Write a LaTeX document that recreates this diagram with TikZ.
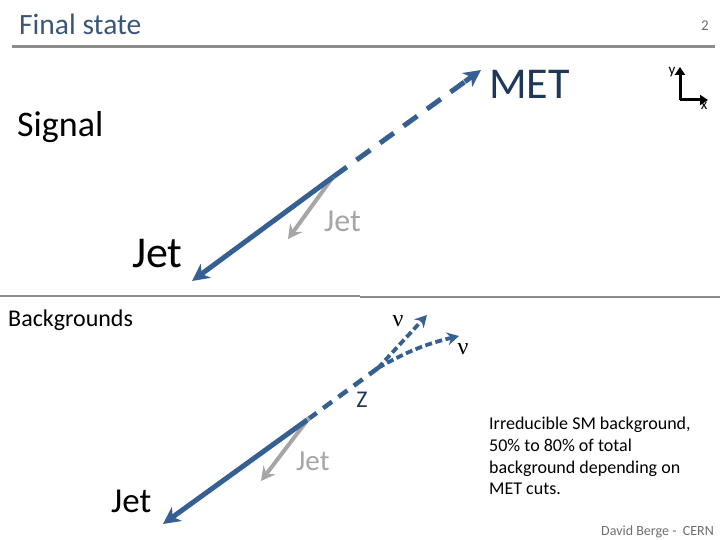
\documentclass[tikz,border=0pt]{standalone}
\usepackage{fontspec}
\setmainfont{Carlito}
\newfontfamily\greekf{Liberation Serif}
\usetikzlibrary{arrows.meta,calc}
\definecolor{arrblue}{RGB}{54,96,146}
\definecolor{navy}{RGB}{31,56,90}
\definecolor{titleblue}{RGB}{59,87,120}
\definecolor{rulegray}{RGB}{140,140,140}
\definecolor{jetgray}{RGB}{166,166,166}
\definecolor{footgray}{RGB}{110,110,110}
\tikzset{
  lbl/.style={inner sep=0pt, anchor=base west},
  bluearr/.style={draw=arrblue, line width=5pt, -{Stealth[length=17pt,width=17pt,inset=5pt]}},
  bluedash/.style={draw=arrblue, line width=5pt, dash pattern=on 17pt off 12pt},
  nuarr/.style={draw=arrblue, line width=3.8pt, dash pattern=on 7pt off 3.5pt, -{Stealth[length=12pt,width=13pt,inset=4pt]}},
  grayarr/.style={draw=jetgray, line width=4pt, -{Stealth[length=14pt,width=15pt,inset=5pt]}},
  rule/.style={draw=rulegray, line width=2pt},
  axis/.style={draw=black, line width=3pt, -{Triangle[length=8pt,width=10pt]}}
}
\begin{document}
\begin{tikzpicture}[x=1pt,y=-1pt]
\useasboundingbox (0,0) rectangle (720,540);
% header
\node[lbl, text=titleblue, font=\fontsize{29.5}{32}\selectfont] (title) at (19,35) {Final state};
\node[inner sep=0pt, anchor=base east, text=footgray, font=\fontsize{15}{17}\selectfont] (page) at (709,31) {2};
\draw[draw=rulegray, line width=3pt] (12,47) -- (715,47);
% signal
\node[lbl, font=\fontsize{36}{40}\selectfont] (signal) at (17,137) {Signal};
\coordinate (v1) at (333,177);
\coordinate (jet1) at (192,281);
\coordinate (met) at (481,70);
\coordinate (gjet1) at (288,239);
\draw[bluedash] (v1) -- ($(met)!14pt!(v1)$);
\draw[bluearr] ($(met)!20pt!(v1)$) -- (met);
\draw[grayarr] (v1) -- (gjet1);
\draw[bluearr] (v1) -- (jet1);
\node[lbl, text=navy, font=\fontsize{44}{48}\selectfont] (metl) at (489,99) {MET};
\node[lbl, font=\fontsize{44}{48}\selectfont] (jetl1) at (132,267) {Jet};
\node[lbl, text=jetgray, font=\fontsize{32}{36}\selectfont] (gjetl1) at (324,232) {Jet};
% axes
\coordinate (ax0) at (680,100);
\coordinate (axy) at (680,67);
\coordinate (axx) at (708,100);
\draw[axis] (ax0) -- (axy);
\draw[axis] (ax0) -- (axx);
\node[inner sep=0pt, font=\fontsize{15}{17}\selectfont] (ylab) at (672,72) {y};
\node[inner sep=0pt, font=\fontsize{15}{17}\selectfont] (xlab) at (704,106) {x};
% divider
\draw[rule] (0,295.5) -- (360,295.5);
\draw[rule] (360,297) -- (720,297);
% backgrounds
\node[lbl, font=\fontsize{24}{28}\selectfont] (bg) at (8,326) {Backgrounds};
\coordinate (v2) at (378,368);
\coordinate (v3) at (307,420);
\coordinate (nu1) at (427,315);
\coordinate (nu2) at (459,336);
\coordinate (jet2) at (163,524);
\coordinate (gjet2) at (261,481);
\draw[draw=arrblue, line width=4.5pt, dash pattern=on 11pt off 8pt] (v2) -- (v3);
\draw[nuarr] (v2) -- (nu1);
\draw[nuarr] (v2) to[bend left=8] (nu2);
\draw[grayarr] (309,418) -- (gjet2);
\draw[bluearr] (v3) -- (jet2);
\node[inner sep=0pt, font=\greekf\fontsize{24}{28}\selectfont] (nul1) at (398,321) {ν};
\node[inner sep=0pt, font=\greekf\fontsize{24}{28}\selectfont] (nul2) at (463,349) {ν};
\node[inner sep=0pt, text=navy, font=\fontsize{24}{28}\selectfont] (zl) at (362,400) {Z};
\node[lbl, font=\fontsize{35}{38}\selectfont] (jetl2) at (111,512) {Jet};
\node[lbl, text=jetgray, font=\fontsize{29}{32}\selectfont] (gjetl2) at (296,470) {Jet};
\node[anchor=north west, inner sep=0pt, align=left, font=\fontsize{18}{21.7}\selectfont] (note) at (489,417) {Irreducible SM background,\\50\% to 80\% of total\\background depending on\\MET cuts.};
\node[inner sep=0pt, anchor=base east, text=footgray, font=\fontsize{14}{16}\selectfont] (foot) at (714,535) {David Berge -\ \ CERN};
\end{tikzpicture}
\end{document}
